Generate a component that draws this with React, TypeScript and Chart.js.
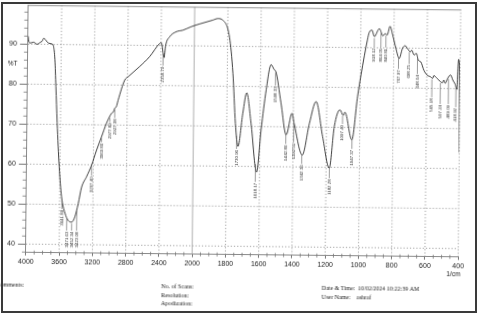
import React, { useEffect, useRef } from 'react';
import { Chart, registerables, LinearScale } from 'chart.js';

// ---- spectrum data (wavenumber in 1/cm, transmittance in %T) ----
const WAVENUMBERS = [
  4000, 3990, 3972, 3933, 3892, 3852, 3830, 3813, 3792, 3770, 3753, 3712, 3693, 3675, 3660, 3640,
  3610, 3578, 3534, 3495, 3454, 3416, 3377, 3339, 3280, 3221, 3164, 3105, 3047, 2988, 2965, 2949,
  2930, 2910, 2832, 2793, 2655, 2536, 2417, 2397, 2362, 2345, 2298, 2218, 2139, 2039, 1970, 1890,
  1860, 1830, 1789, 1766, 1748, 1731, 1704, 1682, 1654, 1618, 1593, 1565, 1537, 1517, 1508, 1475,
  1442, 1408, 1395, 1344, 1303, 1264, 1223, 1181, 1153, 1120, 1100, 1090, 1047, 1015, 977, 959,
  950, 932, 918, 888, 866, 852, 841, 824, 808, 788, 767, 748, 732, 718, 700, 692,
  678, 664, 652, 637, 618, 598, 578, 565, 558, 538, 518, 507, 498, 489, 475, 457,
  443, 428, 419, 410, 404, 400,
];
const TRANSMITTANCE = [
  92.0, 90.6, 90.3, 90.5, 90.0, 90.5, 90.8, 91.5, 91.2, 90.6, 90.3, 90.1, 89.5, 86.2, 79.5, 70.5,
  59.4, 51.9, 47.8, 46.0, 45.6, 46.9, 50.2, 54.3, 57.0, 59.9, 63.6, 67.0, 70.4, 72.9, 73.3, 74.2,
  74.6, 76.2, 81.3, 82.1, 84.7, 87.2, 90.5, 90.7, 87.0, 90.0, 92.2, 93.5, 93.9, 94.8, 95.5, 96.5,
  96.9, 96.5, 92.3, 83.2, 70.7, 65.0, 73.3, 78.4, 70.8, 58.6, 69.2, 79.2, 85.5, 84.2, 83.8, 75.9,
  68.0, 73.4, 70.9, 63.0, 70.9, 76.4, 67.7, 59.8, 70.2, 74.4, 73.0, 73.8, 66.9, 77.8, 87.9, 92.0,
  93.7, 94.4, 92.8, 94.8, 93.0, 93.6, 93.2, 95.4, 93.3, 90.0, 87.4, 89.9, 90.6, 89.9, 89.1, 89.5,
  88.3, 88.7, 87.0, 86.6, 84.5, 83.3, 82.9, 82.5, 83.2, 82.5, 81.7, 81.4, 82.1, 81.3, 82.5, 83.4,
  82.1, 81.0, 79.8, 87.3, 86.0, 64.0,
];

// ---- axes ----
const X_TICKS = [4000, 3600, 3200, 2800, 2400, 2000, 1800, 1600, 1400, 1200, 1000, 800, 600, 400];
const Y_TICKS = [40, 50, 60, 70, 80, 90];
const Y_MIN = 37.9;
const Y_MAX = 99.8;

// ---- peak annotations (text, and where the text sits in data units) ----
const PEAK_LABELS = [
  '3641.89', '3471.63', '3452.34', '3423.08', '3207.40', '3060.86', '2977.89', '2927.38',
  '2358.79', '1730.96', '1618.17', '1508.33', '1442.86', '1392.51', '1342.36', '1182.28',
  '1097.40', '1047.37', '918.12', '864.05', '840.81', '767.97', '698.25', '648.04',
  '565.18', '507.24', '489.09', '418.92',
];
const PEAK_LABEL_X = [
  3572, 3513, 3453, 3393, 3220, 3104, 3006, 2948,
  2374, 1740, 1625, 1510, 1444, 1397, 1347, 1180,
  1104, 1046, 918, 878, 848, 771, 707, 657,
  569, 518, 469, 424,
];
const PEAK_LABEL_Y = [
  48.6, 43.2, 43.2, 43.2, 57.0, 65.4, 70.5, 71.5,
  84.7, 64.1, 55.9, 80.0, 65.45, 65.9, 60.5, 57.0,
  70.6, 64.4, 89.85, 89.85, 89.85, 84.5, 85.8, 83.3,
  77.5, 75.85, 75.85, 75.1,
];

// Instrument x-axis: 4000-2000 at 400/division, 2000-400 at 200/division
const SPAN = 13;
const toUnits = (w: number) => (w >= 2000 ? (4000 - w) / 400 : 5 + (2000 - w) / 200);
const fromUnits = (u: number) => (u <= 5 ? 4000 - 400 * u : 2000 - 200 * (u - 5));

class WavenumberScale extends LinearScale {
  static id = 'wavenumber';
  static defaults = {};
  buildTicks() {
    return X_TICKS.map((value) => ({ value }));
  }
  getPixelForValue(value: number) {
    return this.getPixelForDecimal(toUnits(value) / SPAN);
  }
  getValueForPixel(pixel: number) {
    return fromUnits(this.getDecimalForPixel(pixel) * SPAN);
  }
}

Chart.register(...registerables, WavenumberScale as any);

const SANS = '"Liberation Sans", Arial, sans-serif';
const SERIF = '"Liberation Serif", "Times New Roman", serif';

function curveYAt(pts: any[], x: number): number | null {
  for (let i = 0; i < pts.length - 1; i++) {
    const a = pts[i];
    const b = pts[i + 1];
    if (x >= a.x && x <= b.x) {
      const t = b.x === a.x ? 0 : (x - a.x) / (b.x - a.x);
      return a.y + (b.y - a.y) * t;
    }
  }
  return null;
}

const gridPlugin = {
  id: 'ftirGrid',
  beforeDatasetsDraw(chart: any) {
    const { ctx, chartArea: a, scales } = chart;
    const xs = scales.x;
    const ys = scales.y;
    ctx.save();
    ctx.strokeStyle = '#8c8c8c';
    ctx.lineWidth = 0.8;
    ctx.setLineDash([1.2, 2]);
    X_TICKS.forEach((w) => {
      if (w === 2000 || w === 4000) return;
      const x = xs.getPixelForValue(w);
      ctx.beginPath();
      ctx.moveTo(x, a.top);
      ctx.lineTo(x, a.bottom);
      ctx.stroke();
    });
    Y_TICKS.forEach((v) => {
      const y = ys.getPixelForValue(v);
      ctx.beginPath();
      ctx.moveTo(a.left, y);
      ctx.lineTo(a.right, y);
      ctx.stroke();
    });
    ctx.setLineDash([]);
    ctx.strokeStyle = '#a6a6a6';
    ctx.lineWidth = 0.9;
    const xb = xs.getPixelForValue(2000);
    ctx.beginPath();
    ctx.moveTo(xb, a.top);
    ctx.lineTo(xb, a.bottom);
    ctx.stroke();
    ctx.strokeStyle = '#8a8a8a';
    ctx.beginPath();
    ctx.moveTo(a.left, a.top + 0.5);
    ctx.lineTo(a.right, a.top + 0.5);
    ctx.stroke();
    ctx.restore();
  },
};

const decorPlugin = {
  id: 'ftirDecor',
  afterDraw(chart: any) {
    const { ctx, chartArea: a, scales } = chart;
    const xs = scales.x;
    const ys = scales.y;
    ctx.save();

    // minor ticks
    ctx.strokeStyle = '#777';
    ctx.lineWidth = 0.8;
    for (let v = 38; v <= 98; v += 2) {
      if (v % 10 === 0) continue;
      const y = ys.getPixelForValue(v);
      ctx.beginPath();
      ctx.moveTo(a.left - 4, y);
      ctx.lineTo(a.left, y);
      ctx.stroke();
    }
    const minor: number[] = [];
    for (let w = 3900; w > 2000; w -= 100) if (w % 400) minor.push(w);
    for (let w = 1950; w > 400; w -= 50) if (w % 200) minor.push(w);
    minor.forEach((w) => {
      const x = xs.getPixelForValue(w);
      ctx.beginPath();
      ctx.moveTo(x, a.bottom - 2);
      ctx.lineTo(x, a.bottom + 2);
      ctx.stroke();
    });

    // axis captions
    ctx.fillStyle = '#222';
    ctx.font = `6.5px ${SANS}`;
    ctx.textAlign = 'center';
    ctx.textBaseline = 'middle';
    ctx.fillText('%T', 11.7, 66.2);
    ctx.fillText('1/cm', 454.5, 271.8);

    // footer text
    ctx.font = `6px ${SERIF}`;
    ctx.textAlign = 'left';
    ctx.fillText('Comments:', -2.5, 287.4);
    ctx.fillText('No. of Scans:', 162.4, 287.5);
    ctx.fillText('Resolution:', 162.5, 296.1);
    ctx.fillText('Apodization:', 162.5, 304.8);
    ctx.fillText('Date & Time:  10/02/2024 10:22:39 AM', 323.1, 287.4);
    ctx.fillText('User Name:', 323.1, 296.1);
    ctx.fillText('ashraf', 358, 296.1);

    // peak labels with leader lines
    const pts = chart.getDatasetMeta(0).data;
    ctx.font = `4.4px ${SANS}`;
    ctx.fillStyle = '#333';
    ctx.strokeStyle = '#555';
    ctx.lineWidth = 0.6;
    PEAK_LABELS.forEach((text, i) => {
      const x = xs.getPixelForValue(PEAK_LABEL_X[i]);
      const yTop = ys.getPixelForValue(PEAK_LABEL_Y[i]);
      const yc = curveYAt(pts, x);
      if (yc !== null && yc < yTop - 3) {
        ctx.beginPath();
        ctx.moveTo(x, yc + 1.5);
        ctx.lineTo(x, yTop - 1);
        ctx.stroke();
      }
      ctx.save();
      ctx.translate(x, yTop);
      ctx.rotate(-Math.PI / 2);
      ctx.textAlign = 'right';
      ctx.textBaseline = 'middle';
      ctx.fillText(text, 0, 0);
      ctx.restore();
    });

    ctx.restore();
  },
};

export default function App() {
  const canvasRef = useRef<HTMLCanvasElement | null>(null);

  useEffect(() => {
    const canvas = canvasRef.current;
    if (!canvas) return;
    const chart = new Chart(canvas, {
      type: 'line',
      data: {
        datasets: [
          {
            label: 'Transmittance',
            data: WAVENUMBERS.map((w, i) => ({ x: w, y: TRANSMITTANCE[i] })),
            borderColor: '#000000',
            borderWidth: 0.75,
            pointRadius: 0,
            fill: false,
            cubicInterpolationMode: 'monotone',
          },
        ],
      },
      options: {
        animation: false,
        responsive: false,
        maintainAspectRatio: false,
        events: [],
        layout: { padding: { left: 0, right: 20.8, top: 7.2, bottom: 0 } },
        plugins: { legend: { display: false }, tooltip: { enabled: false } },
        scales: {
          x: {
            type: 'wavenumber' as any,
            min: 400,
            max: 4000,
            afterFit: (s: any) => {
              s.height = 59.3;
            },
            grid: {
              drawOnChartArea: false,
              drawTicks: true,
              tickLength: 3,
              tickColor: '#777',
            },
            border: { display: true, color: '#8a8a8a', width: 1 },
            ticks: {
              autoSkip: false,
              maxRotation: 0,
              minRotation: 0,
              padding: 2,
              color: '#222',
              font: { size: 7, family: SANS, lineHeight: 1.2 },
              callback: (v: any) => String(v),
            },
          },
          y: {
            type: 'linear',
            min: Y_MIN,
            max: Y_MAX,
            afterBuildTicks: (s: any) => {
              s.ticks = Y_TICKS.map((value) => ({ value }));
            },
            afterFit: (s: any) => {
              s.width = 26.9;
            },
            grid: {
              drawOnChartArea: false,
              drawTicks: true,
              tickLength: 8,
              tickColor: '#777',
            },
            border: { display: true, color: '#8a8a8a', width: 1 },
            ticks: {
              padding: 3,
              color: '#222',
              font: { size: 7, family: SANS, lineHeight: 1.2 },
              callback: (v: any) => String(v),
            },
          },
        },
      },
      plugins: [gridPlugin, decorPlugin],
    });
    return () => chart.destroy();
  }, []);

  return (
    <div
      style={{
        position: 'fixed',
        left: 0,
        top: 0,
        width: 480,
        height: 314,
        overflow: 'hidden',
        background: '#fff',
      }}
    >
      <canvas
        ref={canvasRef}
        width={480}
        height={314}
        style={{
          position: 'absolute',
          left: 0,
          top: 0,
          width: 480,
          height: 314,
          transform: 'rotate(0.6deg)',
          transformOrigin: '240px 157px',
        }}
      />
      <div
        style={{
          position: 'absolute',
          left: 1,
          top: 2,
          width: 476,
          height: 311,
          boxSizing: 'border-box',
          border: '2px solid #3a3a3a',
          pointerEvents: 'none',
        }}
      />
    </div>
  );
}
